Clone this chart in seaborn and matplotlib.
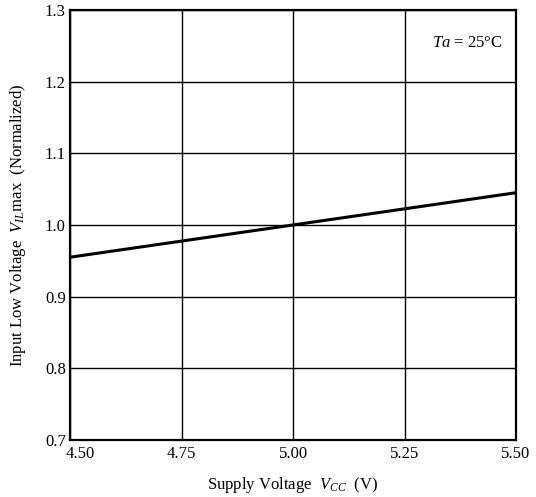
import matplotlib
matplotlib.use('Agg')
import matplotlib.pyplot as plt
import matplotlib.transforms as mtransforms
import seaborn as sns
import pandas as pd

vcc = [4.50, 5.00, 5.50]
vil_norm = [0.955, 1.000, 1.045]
x_ticks = [4.50, 4.75, 5.00, 5.25, 5.50]
x_labels = ['4.50', '4.75', '5.00', '5.25', '5.50']
y_ticks = [0.7, 0.8, 0.9, 1.0, 1.1, 1.2, 1.3]

sns.set_theme(style='white')
plt.rcParams['font.family'] = ['Liberation Serif', 'DejaVu Serif']
plt.rcParams['mathtext.fontset'] = 'custom'
plt.rcParams['mathtext.it'] = 'Liberation Serif:italic'
plt.rcParams['mathtext.rm'] = 'Liberation Serif'

df = pd.DataFrame({'vcc': vcc, 'vil': vil_norm})

fig = plt.figure(figsize=(5.36, 4.97), dpi=100)
ax = fig.add_axes([0.1306, 0.1147, 0.8321, 0.8653])
sns.lineplot(data=df, x='vcc', y='vil', ax=ax, color='black', linewidth=2.2)

ax.set_xlim(4.5, 5.5)
ax.set_ylim(0.7, 1.3)
ax.set_xticks(x_ticks)
ax.set_xticklabels(x_labels)
ax.set_yticks(y_ticks)
ax.set_yticklabels([f'{v:.1f}' for v in y_ticks])
ax.grid(True, color='black', linewidth=1.0)
ax.tick_params(axis='both', length=0, labelsize=12, colors='black')
ax.tick_params(axis='x', pad=4)
ax.tick_params(axis='y', pad=3)
for s in ax.spines.values():
    s.set_color('black')
    s.set_linewidth(1.6)

# nudge the first x label right so it clears the 0.7 label
first = ax.get_xticklabels()[0]
first.set_transform(first.get_transform() + mtransforms.ScaledTranslation(10 / 100, 0, fig.dpi_scale_trans))

ax.set_xlabel('Supply Voltage  $V_{CC}$  (V)', fontsize=12, color='black', labelpad=10)
ax.set_ylabel('Input Low Voltage  $V_{IL}$max  (Normalized)', fontsize=12, color='black', labelpad=12)
ax.text(5.47, 1.254, '$Ta$ = 25°C', ha='right', va='center', fontsize=12, color='black')

fig.savefig('out.png', dpi=100)
